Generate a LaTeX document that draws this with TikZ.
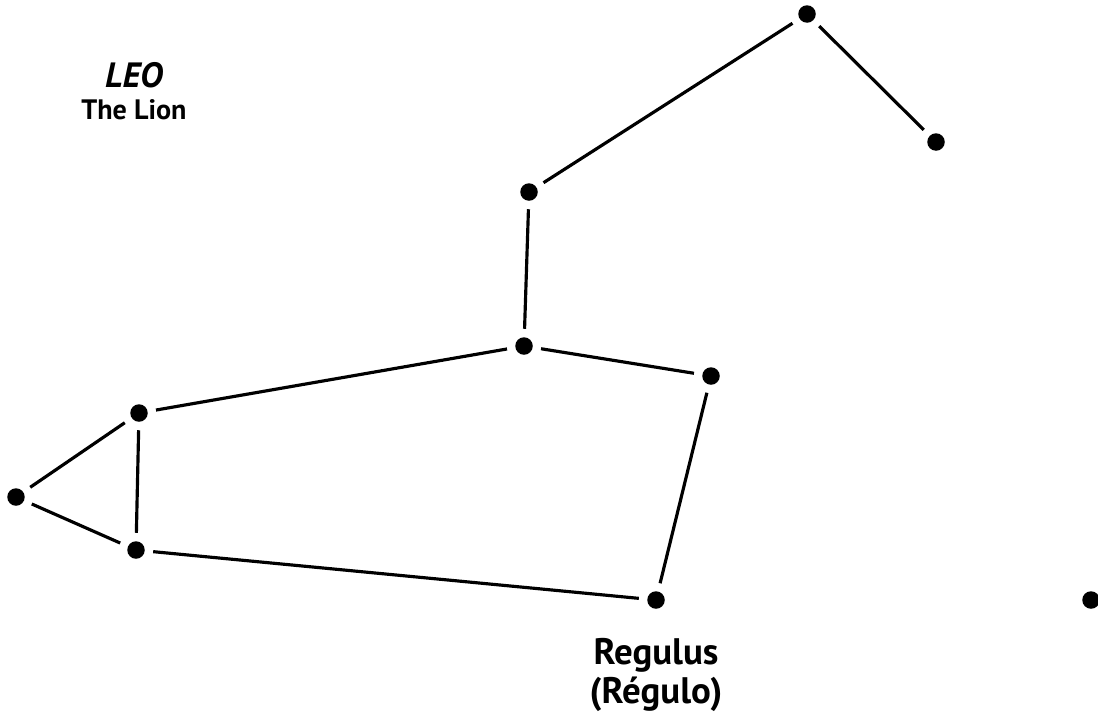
\documentclass[tikz,border=0pt]{standalone}
\usepackage{fontspec}
\setmainfont{PT Sans}
\usepackage{tikz}
\usetikzlibrary{positioning}

\tikzset{
  starpt/.style={circle, fill=black, inner sep=0pt, minimum size=0.35cm, outer sep=0.17cm},
  link/.style={line width=1.8pt},
  lbl/.style={font=\bfseries, inner sep=0pt}
}

\begin{document}
\begin{tikzpicture}[x=0.02cm, y=-0.02cm]
    \useasboundingbox (0,0) rectangle (1098,724);
    \clip (0,0) rectangle (1098,724);

    % Stars of the constellation
    \node[starpt] (head)   at (807,14)  {};
    \node[starpt] (snout)  at (936,142) {};
    \node[starpt] (mane)   at (529,192) {};
    \node[starpt] (neck)   at (524,346) {};
    \node[starpt] (chest)  at (711,376) {};
    \node[starpt] (back)   at (139,413) {};
    \node[starpt] (tail)   at (16,497)  {};
    \node[starpt] (hind)   at (136,550) {};
    \node[starpt] (regulus) at (656,600) {};
    \node[starpt] (lone)   at (1091,600) {};

    % Lines joining the stars
    \draw[link] (mane) -- (head) -- (snout);
    \draw[link] (mane) -- (neck);
    \draw[link] (neck) -- (chest);
    \draw[link] (neck) -- (back);
    \draw[link] (back) -- (tail);
    \draw[link] (tail) -- (hind);
    \draw[link] (back) -- (hind);
    \draw[link] (hind) -- (regulus);
    \draw[link] (chest) -- (regulus);

    % Titles
    \node[lbl, font=\bfseries\itshape\fontsize{20}{23}\selectfont] (title) at (134,75) {LEO};
    \node[lbl, font=\bfseries\fontsize{16}{19}\selectfont, below=0.22cm of title] (subtitle) {The Lion};

    \node[lbl, font=\bfseries\fontsize{21}{24}\selectfont] (reg1) at (656,655) {Regulus};
    \node[lbl, font=\bfseries\fontsize{21}{24}\selectfont, below=0.08cm of reg1] (reg2) {(Régulo)};
\end{tikzpicture}
\end{document}
